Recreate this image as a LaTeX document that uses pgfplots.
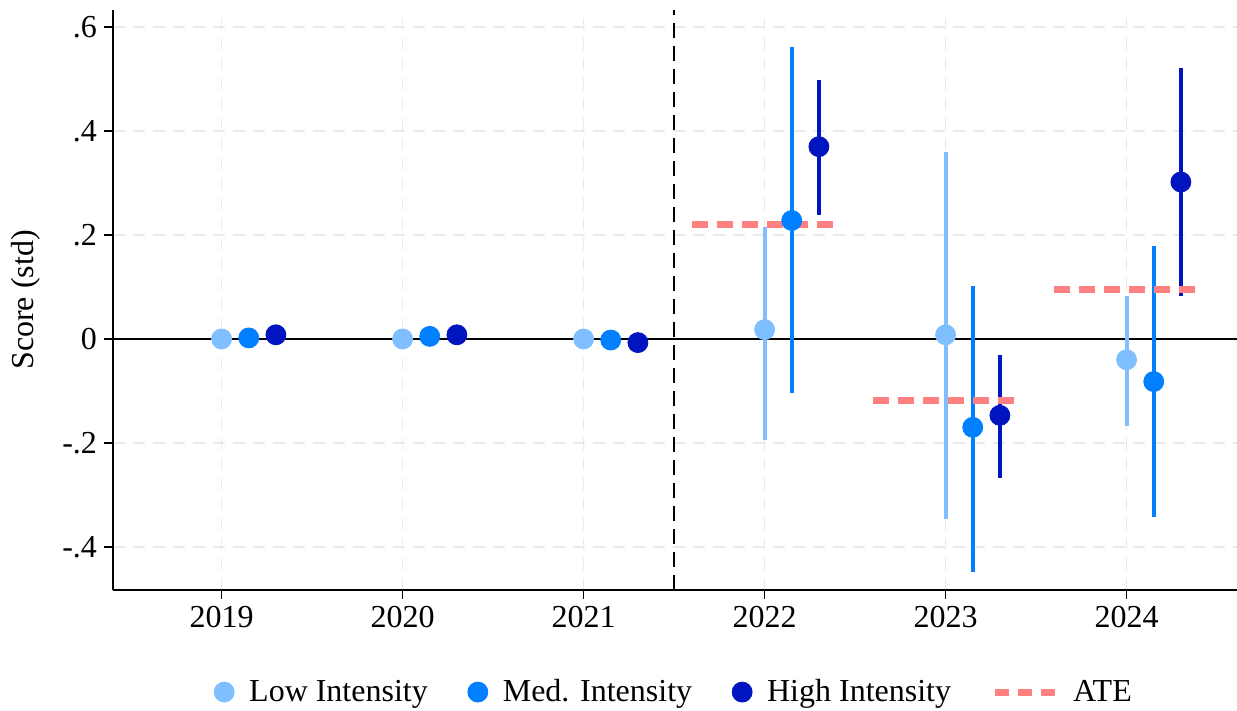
\documentclass[border=0pt]{standalone}
\usepackage{fontspec}
\setmainfont{Liberation Serif}
\usepackage{pgfplots}
\pgfplotsset{compat=1.18}
\definecolor{lowc}{RGB}{128,191,255}
\definecolor{medc}{RGB}{0,128,255}
\definecolor{highc}{RGB}{0,20,192}
\definecolor{atec}{RGB}{255,128,128}
\definecolor{gridc}{RGB}{234,234,234}
\begin{document}
\begin{tikzpicture}[x=1pt,y=1pt]
\useasboundingbox (0,0) rectangle (618.5,355.5);
\begin{axis}[
  at={(56.5pt,60.5pt)}, anchor=south west,
  scale only axis, width=562pt, height=290pt,
  xmin=2018.4, xmax=2024.61, ymin=-0.483, ymax=0.633,
  axis x line*=bottom, axis y line*=left,
  axis line style={-, line width=0.8pt},
  xtick={2019,2020,2021,2022,2023,2024},
  xticklabels={2019,2020,2021,2022,2023,2024},
  ytick={-0.4,-0.2,0,0.2,0.4,0.6},
  yticklabels={-.4,-.2,0,.2,.4,.6},
  tick align=outside, major tick length=4.5pt,
  tick style={black, line width=0.8pt},
  grid=major, grid style={dashed, dash pattern=on 6pt off 4pt, color=gridc, line width=0.9pt},
  ticklabel style={font=\fontsize{16}{19}\selectfont},
  ylabel={Score (std)},
  ylabel shift=4pt,
  ylabel style={font=\fontsize{16}{19}\selectfont},
  legend columns=4,
  legend style={at={(0.5,-0.176)}, anchor=center, draw=none,
    font=\fontsize{16}{19}\selectfont,
    /tikz/every odd column/.append style={column sep=5.5pt},
    /tikz/every even column/.append style={column sep=18pt}},
  error bars/y dir=both, error bars/y explicit,
  error bars/error mark=none,
  clip=false,
]
% zero line and treatment line
\addplot[black, line width=1pt, forget plot] coordinates {(2018.4,0) (2024.61,0)};
\addplot[black, line width=1pt, dash pattern=on 7.5pt off 4pt, forget plot] coordinates {(2021.5,-0.483) (2021.5,0.633)};

\addplot[only marks, mark=*, mark size=5pt, color=lowc, mark options={fill=lowc, draw=none},
  error bars/error bar style={line width=2pt, color=lowc}]
  table[x=x, y=y, y error plus=ep, y error minus=em] {
x y ep em
2019 0.000 0 0
2020 0.000 0 0
2021 0.000 0 0
2022 0.018 0.197 0.212
2023 0.008 0.352 0.354
2024 -0.040 0.123 0.127
};
\addlegendentry{Low Intensity}

\addplot[only marks, mark=*, mark size=5pt, color=medc, mark options={fill=medc, draw=none},
  error bars/error bar style={line width=2pt, color=medc}]
  table[x=x, y=y, y error plus=ep, y error minus=em] {
x y ep em
2019.15 0.002 0 0
2020.15 0.005 0 0
2021.15 -0.002 0 0
2022.15 0.228 0.334 0.332
2023.15 -0.170 0.272 0.278
2024.15 -0.082 0.261 0.260
};
\addlegendentry{Med. Intensity}

\addplot[only marks, mark=*, mark size=5pt, color=highc, mark options={fill=highc, draw=none},
  error bars/error bar style={line width=2pt, color=highc}]
  table[x=x, y=y, y error plus=ep, y error minus=em] {
x y ep em
2019.3 0.008 0 0
2020.3 0.008 0 0
2021.3 -0.007 0 0
2022.3 0.370 0.128 0.132
2023.3 -0.147 0.116 0.120
2024.3 0.302 0.219 0.219
};
\addlegendentry{High Intensity}

\addplot[atec, line width=3.5pt, dash pattern=on 8pt off 4.5pt, unbounded coords=jump,
  legend image code/.code={\draw[atec, line width=3.5pt, dash pattern=on 7pt off 4.5pt] (0pt,0pt) -- (30pt,0pt);}]
  coordinates {(2021.6,0.221) (2022.4,0.221) (2022.5,nan) (2022.6,-0.119) (2023.4,-0.119) (2023.5,nan) (2023.6,0.096) (2024.4,0.096)};
\addlegendentry{ATE}
\end{axis}
\end{tikzpicture}
\end{document}
